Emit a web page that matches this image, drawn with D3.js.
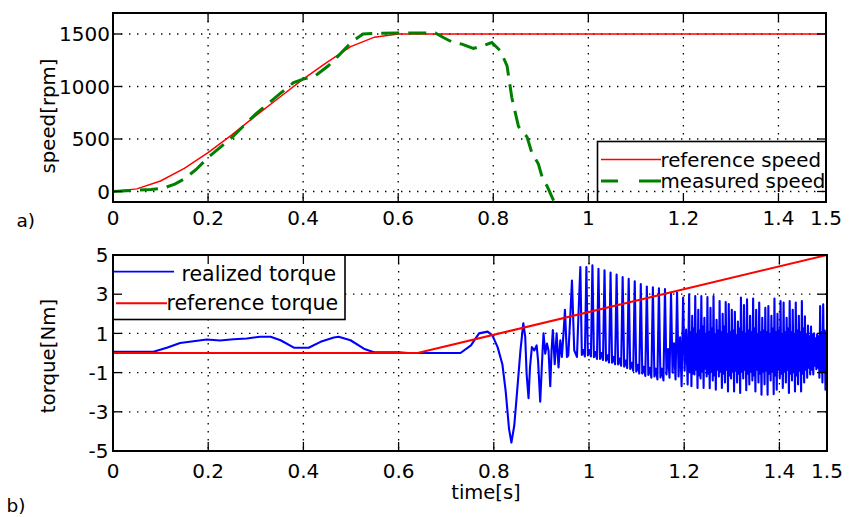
<!DOCTYPE html>
<html>
<head>
<meta charset="utf-8">
<script src="https://cdn.jsdelivr.net/npm/d3@7"></script>
<style>
  body { margin: 0; background: #fff; }
  text { font-family: "DejaVu Sans", Verdana, sans-serif; fill: #000; }
</style>
</head>
<body>
<svg id="chart" width="849" height="517"></svg>
<script>
// ---------- speed panel (a) ----------
const timeTicks = [0, 0.2, 0.4, 0.6, 0.8, 1, 1.2, 1.4, 1.5];
const timeTickLabels = ["0", "0.2", "0.4", "0.6", "0.8", "1", "1.2", "1.4", "1.5"];
const speedTicks = [0, 500, 1000, 1500];

// reference speed [s, rpm]
const speedReference = [
  [0, 0], [0.05, 25], [0.1, 100], [0.15, 220], [0.2, 370], [0.25, 540], [0.3, 720],
  [0.35, 895], [0.4, 1070], [0.45, 1230], [0.5, 1380], [0.55, 1470], [0.6, 1500], [1.5, 1500]
];
// measured speed [s, rpm]
const speedMeasured = [
  [0, 0], [0.04, 10], [0.08, 20], [0.105, 30], [0.13, 70], [0.15, 120], [0.175, 210],
  [0.2, 324], [0.25, 514], [0.3, 737], [0.35, 927], [0.38, 1038], [0.4, 1070],
  [0.425, 1100], [0.453, 1197], [0.474, 1292], [0.503, 1429], [0.526, 1500],
  [0.562, 1508], [0.6, 1510], [0.678, 1510], [0.695, 1467], [0.715, 1420],
  [0.734, 1404], [0.758, 1362], [0.78, 1390], [0.797, 1419], [0.815, 1340],
  [0.829, 1197], [0.839, 895], [0.853, 620], [0.871, 520], [0.881, 371],
  [0.895, 261], [0.905, 102], [0.913, 54], [0.93, -117], [0.95, -300]
];

// ---------- torque panel (b) ----------
const torqueTicks = [-5, -3, -1, 1, 3, 5];

// reference torque [s, Nm]
const torqueReference = [[0, 0], [0.64, 0], [1.5, 5]];

// realized torque up to the onset of the steady oscillation [s, Nm]
const torqueRealizedStart = [
  [0, 0.06], [0.085, 0.06], [0.113, 0.27], [0.141, 0.51], [0.169, 0.60], [0.197, 0.69],
  [0.225, 0.64], [0.253, 0.70], [0.281, 0.74], [0.309, 0.83], [0.331, 0.83], [0.352, 0.65],
  [0.380, 0.27], [0.411, 0.27], [0.436, 0.57], [0.464, 0.79], [0.474, 0.83], [0.499, 0.65],
  [0.527, 0.22], [0.548, 0.04], [0.600, 0.04], [0.620, 0.0], [0.730, 0.0], [0.752, 0.39],
  [0.769, 1.0], [0.787, 1.09], [0.797, 0.9], [0.808, 0.3], [0.818, -0.57], [0.825, -1.96],
  [0.832, -3.87], [0.837, -4.57], [0.843, -3.7], [0.849, -1.96], [0.856, 0.13], [0.862, 1.52],
  [0.866, 0.83], [0.869, -1.09], [0.873, -2.3], [0.876, -0.74], [0.880, 0.3], [0.885, 0.13],
  [0.890, 0.39], [0.893, -0.39], [0.8975, -2.48], [0.9025, 0.13], [0.9045, 1.0], [0.908, -0.04],
  [0.9116, 0.48], [0.915, 0.13], [0.9186, -1.7], [0.9214, 0.13], [0.924, 1.17], [0.928, -0.57],
  [0.932, 1.0], [0.936, -0.74], [0.9397, 0.65], [0.943, -0.2], [0.9467, 1.09], [0.9495, 2.2],
  [0.9537, -0.2], [0.9565, -0.13], [0.9607, 1.87], [0.9642, 3.7], [0.969, 0.13], [0.9747, -0.2],
  [0.978, 2.04]
];

// first oscillation stage: one entry per cycle, each cycle sampled as
// peak -> first dip -> rebound -> trough
const oscAStart = 0.9818;
const oscAPeriod = 0.0127;
const oscAPeak = [4.39, 4.39, 4.48, 4.30, 4.22, 4.10, 4.00, 3.87, 3.78, 3.66, 3.52, 3.39, 3.35,
  3.30, 3.26, 3.09, 3.09, 2.83];
const oscADip = [-0.10, -0.12, -0.22, -0.30, -0.40, -0.50, -0.58, -0.70, -0.82, -0.95, -1.05,
  -1.12, -1.20, -1.25, -1.10, -1.00, -1.20, -0.90];
const oscARebound = [0.15, 0.15, 0.05, 0.0, -0.12, -0.20, -0.28, -0.38, -0.50, -0.60, -0.70,
  -0.75, -0.80, -0.80, 0.20, 0.50, 0.80, 1.20];
const oscATrough = [-0.18, -0.18, -0.30, -0.36, -0.48, -0.57, -0.65, -0.77, -0.91, -1.05, -1.17,
  -1.26, -1.35, -1.40, -1.26, -1.35, -1.70, -1.61];

// second oscillation stage: faster, denser cycles, same four-sample layout
const oscBStart = 1.2104;
const oscBPeriod = 0.0064;
const oscBPeak = [3.00, 1.90, 2.91, 2.20, 2.90, 1.80, 2.85, 2.30, 2.90, 1.70, 2.65, 2.00, 2.60,
  2.50, 2.20, 2.10, 1.60, 2.83, 2.45, 2.74, 1.90, 2.78, 2.20, 2.57, 1.80, 2.30, 2.40, 1.90, 2.78,
  2.00, 2.65, 2.57, 1.80, 2.65, 2.20, 2.57, 1.90, 2.65, 1.87, 1.40, 1.35, 1.00, 0.95, 2.39, 2.48];
const oscBDip = [-0.95, -1.05, -0.85, -1.15, -0.95, -0.80, -1.05, -0.95, -1.15, -0.85, -0.95,
  -1.05, -0.85, -1.15, -0.95, -0.90, -1.05, -0.95, -0.85, -1.05, -0.95, -1.15, -0.85, -1.05,
  -0.95, -0.90, -1.05, -0.95, -1.15, -0.85, -1.05, -0.95, -0.85, -1.05, -0.95, -1.15, -0.90,
  -1.05, -0.85, -0.75, -0.85, -0.65, -0.75, -0.95, -0.95];
const oscBRebound = [1.05, 1.25, 0.95, 1.15, 1.35, 0.95, 1.05, 1.25, 0.95, 1.15, 1.05, 1.35, 0.95,
  1.05, 1.15, 0.90, 1.25, 1.05, 0.95, 1.15, 1.05, 1.25, 0.95, 1.05, 1.15, 1.05, 0.95, 1.25, 1.05,
  1.15, 0.95, 1.05, 1.25, 1.05, 0.95, 1.15, 1.05, 1.25, 0.95, 0.85, 0.95, 0.75, 0.85, 1.05, 1.15];
const oscBTrough = [-1.70, -1.10, -1.78, -1.30, -1.78, -1.20, -1.80, -1.40, -1.87, -1.20, -1.78,
  -1.50, -1.96, -1.30, -1.96, -1.50, -2.04, -1.30, -1.90, -1.61, -1.40, -1.96, -1.50, -2.13,
  -1.60, -2.13, -1.40, -2.10, -1.87, -1.30, -1.78, -1.50, -2.04, -1.40, -1.96, -1.60, -1.96,
  -1.50, -1.26, -1.10, -1.09, -0.83, -1.26, -1.50, -1.87];
const oscEnd = [1.5, 1.17];

// ---------- drawing ----------
const svg = d3.select("#chart");
const FONT_TICK = 20;
const FONT_LABEL = 19.8;
const DOTS = "1.4,6.6";

function panel(cfg) {
  const g = svg.append("g");
  const x = d3.scaleLinear().domain([0, 1.5]).range([cfg.left, cfg.right]);
  const y = d3.scaleLinear().domain(cfg.yDomain).range([cfg.bottom, cfg.top]);
  const clipId = "clip-" + cfg.name;
  svg.append("clipPath").attr("id", clipId).append("rect")
    .attr("x", cfg.left).attr("y", cfg.top)
    .attr("width", cfg.right - cfg.left).attr("height", cfg.bottom - cfg.top);

  // dotted grid
  const grid = g.append("g").attr("stroke", "#000").attr("stroke-width", 1.3)
    .attr("stroke-dasharray", DOTS);
  grid.selectAll("line.v").data(timeTicks.slice(1, -1)).join("line")
    .attr("x1", d => x(d)).attr("x2", d => x(d)).attr("y1", cfg.top).attr("y2", cfg.bottom);
  grid.selectAll("line.h").data(cfg.yTicks).join("line")
    .attr("x1", cfg.left).attr("x2", cfg.right).attr("y1", d => y(d)).attr("y2", d => y(d));

  return { g, x, y, clipId };
}

function frame(p, cfg) {
  const g = svg.append("g");
  const tick = g.append("g").attr("stroke", "#000").attr("stroke-width", 1.3);
  const tl = 9;
  timeTicks.forEach(t => {
    tick.append("line").attr("x1", p.x(t)).attr("x2", p.x(t)).attr("y1", cfg.bottom).attr("y2", cfg.bottom - tl);
    tick.append("line").attr("x1", p.x(t)).attr("x2", p.x(t)).attr("y1", cfg.top).attr("y2", cfg.top + tl);
  });
  cfg.yTicks.forEach(v => {
    tick.append("line").attr("x1", cfg.left).attr("x2", cfg.left + tl).attr("y1", p.y(v)).attr("y2", p.y(v));
    tick.append("line").attr("x1", cfg.right).attr("x2", cfg.right - tl).attr("y1", p.y(v)).attr("y2", p.y(v));
  });
  g.append("rect").attr("x", cfg.left).attr("y", cfg.top)
    .attr("width", cfg.right - cfg.left).attr("height", cfg.bottom - cfg.top)
    .attr("fill", "none").attr("stroke", "#000").attr("stroke-width", 2);

  // tick labels
  g.selectAll("text.xt").data(timeTicks).join("text")
    .attr("x", d => p.x(d)).attr("y", cfg.xLabelBase)
    .attr("text-anchor", "middle").attr("font-size", FONT_TICK)
    .text((d, i) => timeTickLabels[i]);
  g.selectAll("text.yt").data(cfg.yTicks).join("text")
    .attr("x", cfg.yLabelRight).attr("y", d => p.y(d))
    .attr("dy", "0.36em").attr("text-anchor", "end").attr("font-size", FONT_TICK)
    .text(d => String(d));
}

// ---- panel a: speed ----
const cfgA = { name: "a", left: 113, right: 826, top: 13, bottom: 202, yDomain: [-100, 1700],
  yTicks: speedTicks, xLabelBase: 224.5, yLabelRight: 110 };
const pa = panel(cfgA);
const lineA = d3.line().x(d => pa.x(d[0])).y(d => pa.y(d[1]));
const plotA = pa.g.append("g").attr("clip-path", `url(#${pa.clipId})`);
plotA.append("path").datum(speedReference).attr("d", lineA)
  .attr("fill", "none").attr("stroke", "#ff0000").attr("stroke-width", 1.5);
plotA.append("path").datum(speedMeasured).attr("d", lineA)
  .attr("fill", "none").attr("stroke", "#008000").attr("stroke-width", 3)
  .attr("stroke-dasharray", "18,9");

// legend a
const legA = svg.append("g");
legA.append("rect").attr("x", 597.5).attr("y", 141.5).attr("width", 228.5).attr("height", 60.5)
  .attr("fill", "#fff").attr("stroke", "#000").attr("stroke-width", 1.6);
// zero-speed grid line stays visible over the legend
legA.append("line").attr("x1", 598).attr("x2", 826)
  .attr("y1", pa.y(0)).attr("y2", pa.y(0))
  .attr("stroke", "#000").attr("stroke-width", 1.3).attr("stroke-dasharray", DOTS);
legA.append("line").attr("x1", 601).attr("x2", 661).attr("y1", 159.5).attr("y2", 159.5)
  .attr("stroke", "#ff0000").attr("stroke-width", 1.5);
legA.append("line").attr("x1", 601).attr("x2", 661).attr("y1", 181).attr("y2", 181)
  .attr("stroke", "#008000").attr("stroke-width", 3).attr("stroke-dasharray", "17,21,23");
legA.append("text").attr("x", 660.5).attr("y", 159.5).attr("dy", "0.36em")
  .attr("font-size", FONT_LABEL).text("reference speed");
legA.append("text").attr("x", 660.5).attr("y", 181).attr("dy", "0.36em")
  .attr("font-size", FONT_LABEL).text("measured speed");

frame(pa, cfgA);

// ---- panel b: torque ----
const cfgB = { name: "b", left: 113, right: 827, top: 255, bottom: 451, yDomain: [-5, 5],
  yTicks: torqueTicks, xLabelBase: 477.5, yLabelRight: 108.5 };
const pb = panel(cfgB);

// assemble the realized torque trace from the start segment and the two oscillation stages
const torqueRealized = torqueRealizedStart.slice();
function appendCycles(start, period, peak, dip, rebound, trough) {
  const q = period / 4;
  peak.forEach((pk, i) => {
    const t0 = start + i * period;
    torqueRealized.push([t0, pk]);
    torqueRealized.push([t0 + q, dip[i]]);
    torqueRealized.push([t0 + 2 * q, rebound[i]]);
    torqueRealized.push([t0 + 3 * q, trough[i]]);
  });
}
appendCycles(oscAStart, oscAPeriod, oscAPeak, oscADip, oscARebound, oscATrough);
appendCycles(oscBStart, oscBPeriod, oscBPeak, oscBDip, oscBRebound, oscBTrough);
torqueRealized.push(oscEnd);

const lineB = d3.line().x(d => pb.x(d[0])).y(d => pb.y(d[1]));
const plotB = pb.g.append("g").attr("clip-path", `url(#${pb.clipId})`);
plotB.append("path").datum(torqueRealized).attr("d", lineB)
  .attr("fill", "none").attr("stroke", "#0000ff").attr("stroke-width", 2.1)
  .attr("stroke-linejoin", "round");
plotB.append("path").datum(torqueReference).attr("d", lineB)
  .attr("fill", "none").attr("stroke", "#ff0000").attr("stroke-width", 2);

// legend b
const legB = svg.append("g");
legB.append("rect").attr("x", 113).attr("y", 255).attr("width", 232).attr("height", 64.5)
  .attr("fill", "#fff").attr("stroke", "#000").attr("stroke-width", 1.6);
legB.append("line").attr("x1", 112).attr("x2", 174).attr("y1", 271.7).attr("y2", 271.7)
  .attr("stroke", "#0000ff").attr("stroke-width", 1.8);
legB.append("line").attr("x1", 116).attr("x2", 167).attr("y1", 303.3).attr("y2", 303.3)
  .attr("stroke", "#ff0000").attr("stroke-width", 2);
legB.append("text").attr("x", 181.5).attr("y", 280.7)
  .attr("font-size", 20.5).text("realized torque");
legB.append("text").attr("x", 166.5).attr("y", 309.5)
  .attr("font-size", 20.5).text("reference torque");

frame(pb, cfgB);

// ---------- axis titles and panel tags ----------
svg.append("text").attr("transform", "translate(48,116) rotate(-90)")
  .attr("text-anchor", "middle").attr("dy", "0.36em").attr("font-size", FONT_LABEL).text("speed[rpm]");
svg.append("text").attr("transform", "translate(48,356) rotate(-90)")
  .attr("text-anchor", "middle").attr("dy", "0.36em").attr("font-size", FONT_LABEL).text("torque[Nm]");
svg.append("text").attr("x", 486).attr("y", 499).attr("text-anchor", "middle")
  .attr("font-size", 19.5).text("time[s]");
svg.append("text").attr("x", 16.5).attr("y", 226.5).attr("font-size", 18.5).text("a)");
svg.append("text").attr("x", 6.5).attr("y", 512).attr("font-size", 18.5).text("b)");
</script>
</body>
</html>
